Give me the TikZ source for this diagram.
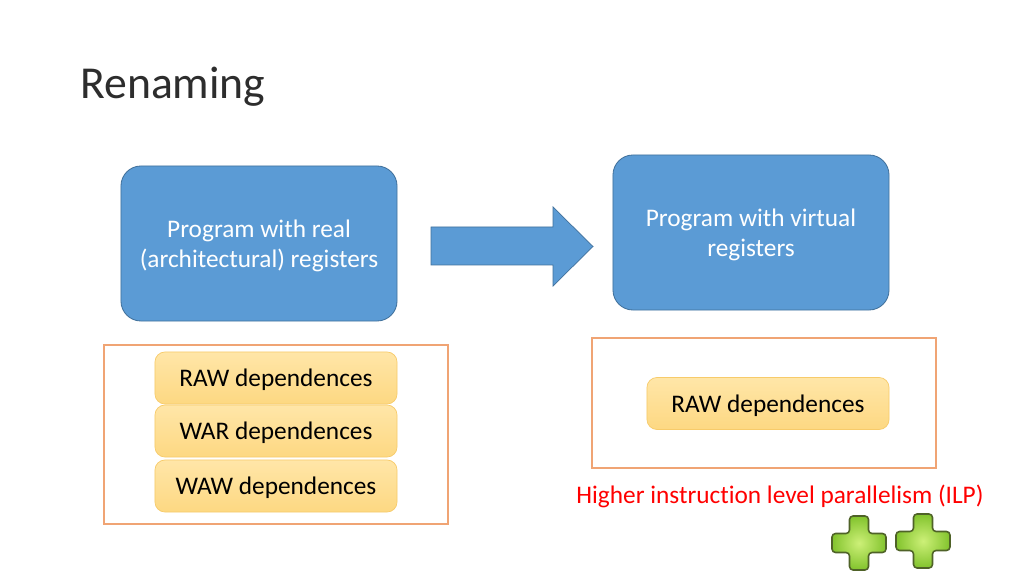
\documentclass[tikz,border=0pt]{standalone}
\usepackage{fontspec}
\setmainfont{Carlito}[Ligatures={NoCommon}]
\usetikzlibrary{shadings}

\definecolor{progblue}{HTML}{5B9BD5}
\definecolor{progedge}{HTML}{41719C}
\definecolor{depfill}{HTML}{FDD882}
\definecolor{deptop}{HTML}{FFE6A8}
\definecolor{depedge}{HTML}{F7CB6A}
\definecolor{frameorange}{HTML}{F0A474}
\definecolor{plusedge}{HTML}{4F6228}

\tikzset{
    progbox/.style={draw=progedge, fill=progblue, rounded corners=0.5cm, line width=0.6pt,
        minimum width=6.9cm, minimum height=3.875cm, text=white, align=center, text depth=0pt,
        font=\fontsize{18}{21.5}\selectfont},
    depbox/.style={draw=depedge, top color=deptop, bottom color=depfill, rounded corners=0.25cm,
        line width=0.5pt, minimum width=6.05cm, minimum height=1.3cm, inner sep=0pt,
        text height=16.4pt, text depth=4pt, font=\fontsize{18}{21.5}\selectfont},
    depframe/.style={draw=frameorange, line width=0.8pt},
    plusicon/.style={draw=plusedge, line width=1.1pt, rounded corners=2.5pt,
        inner color={rgb,255:red,205;green,240;blue,120}, outer color={rgb,255:red,130;green,195;blue,45}}
}

\begin{document}
\begin{tikzpicture}[x=0.025cm, y=-0.025cm]
    \fill[white] (0,0) rectangle (1024,576);
    \useasboundingbox (0,0) rectangle (1024,576);

    \node[anchor=base west, inner sep=0pt, text={rgb,255:red,45;green,45;blue,45}, font=\fontsize{32.5}{39}\selectfont] (title) at (80,99) {Renaming};

    \node[progbox] (realprog) at (259,243.5) {Program with real\\(architectural) registers};
    \node[progbox] (virtprog) at (751,232.5) {Program with virtual\\registers};

    % block arrow between the programs
    \fill[progblue, draw=progedge, line width=0.5pt] (431,227) -- (553,227) -- (553,207) -- (593,246.5)
        -- (553,286) -- (553,265) -- (431,265) -- cycle;

    \draw[depframe] (104,345) rectangle (448,524);
    \node[depbox] (rawleft) at (276,378) {RAW dependences};
    \node[depbox] (warleft) at (276,431) {WAR dependences};
    \node[depbox] (wawleft) at (276,486) {WAW dependences};

    \draw[depframe] (592,338) rectangle (936,468);
    \node[depbox] (rawright) at (768,403.5) {RAW dependences};

    \node[text=red, font=\fontsize{18}{21.5}\selectfont] (ilp) at (780,496) {Higher instruction level parallelism (ILP)};

    \shadedraw[plusicon, shift={(859,543)}] (-9.5,-27) -- ++(19,0) -- ++(0,17.5) -- ++(17.5,0) -- ++(0,19)
        -- ++(-17.5,0) -- ++(0,17.5) -- ++(-19,0) -- ++(0,-17.5) -- ++(-17.5,0) -- ++(0,-19) -- ++(17.5,0) -- cycle;
    \shadedraw[plusicon, shift={(923,541)}] (-9.5,-27) -- ++(19,0) -- ++(0,17.5) -- ++(17.5,0) -- ++(0,19)
        -- ++(-17.5,0) -- ++(0,17.5) -- ++(-19,0) -- ++(0,-17.5) -- ++(-17.5,0) -- ++(0,-19) -- ++(17.5,0) -- cycle;
\end{tikzpicture}
\end{document}
